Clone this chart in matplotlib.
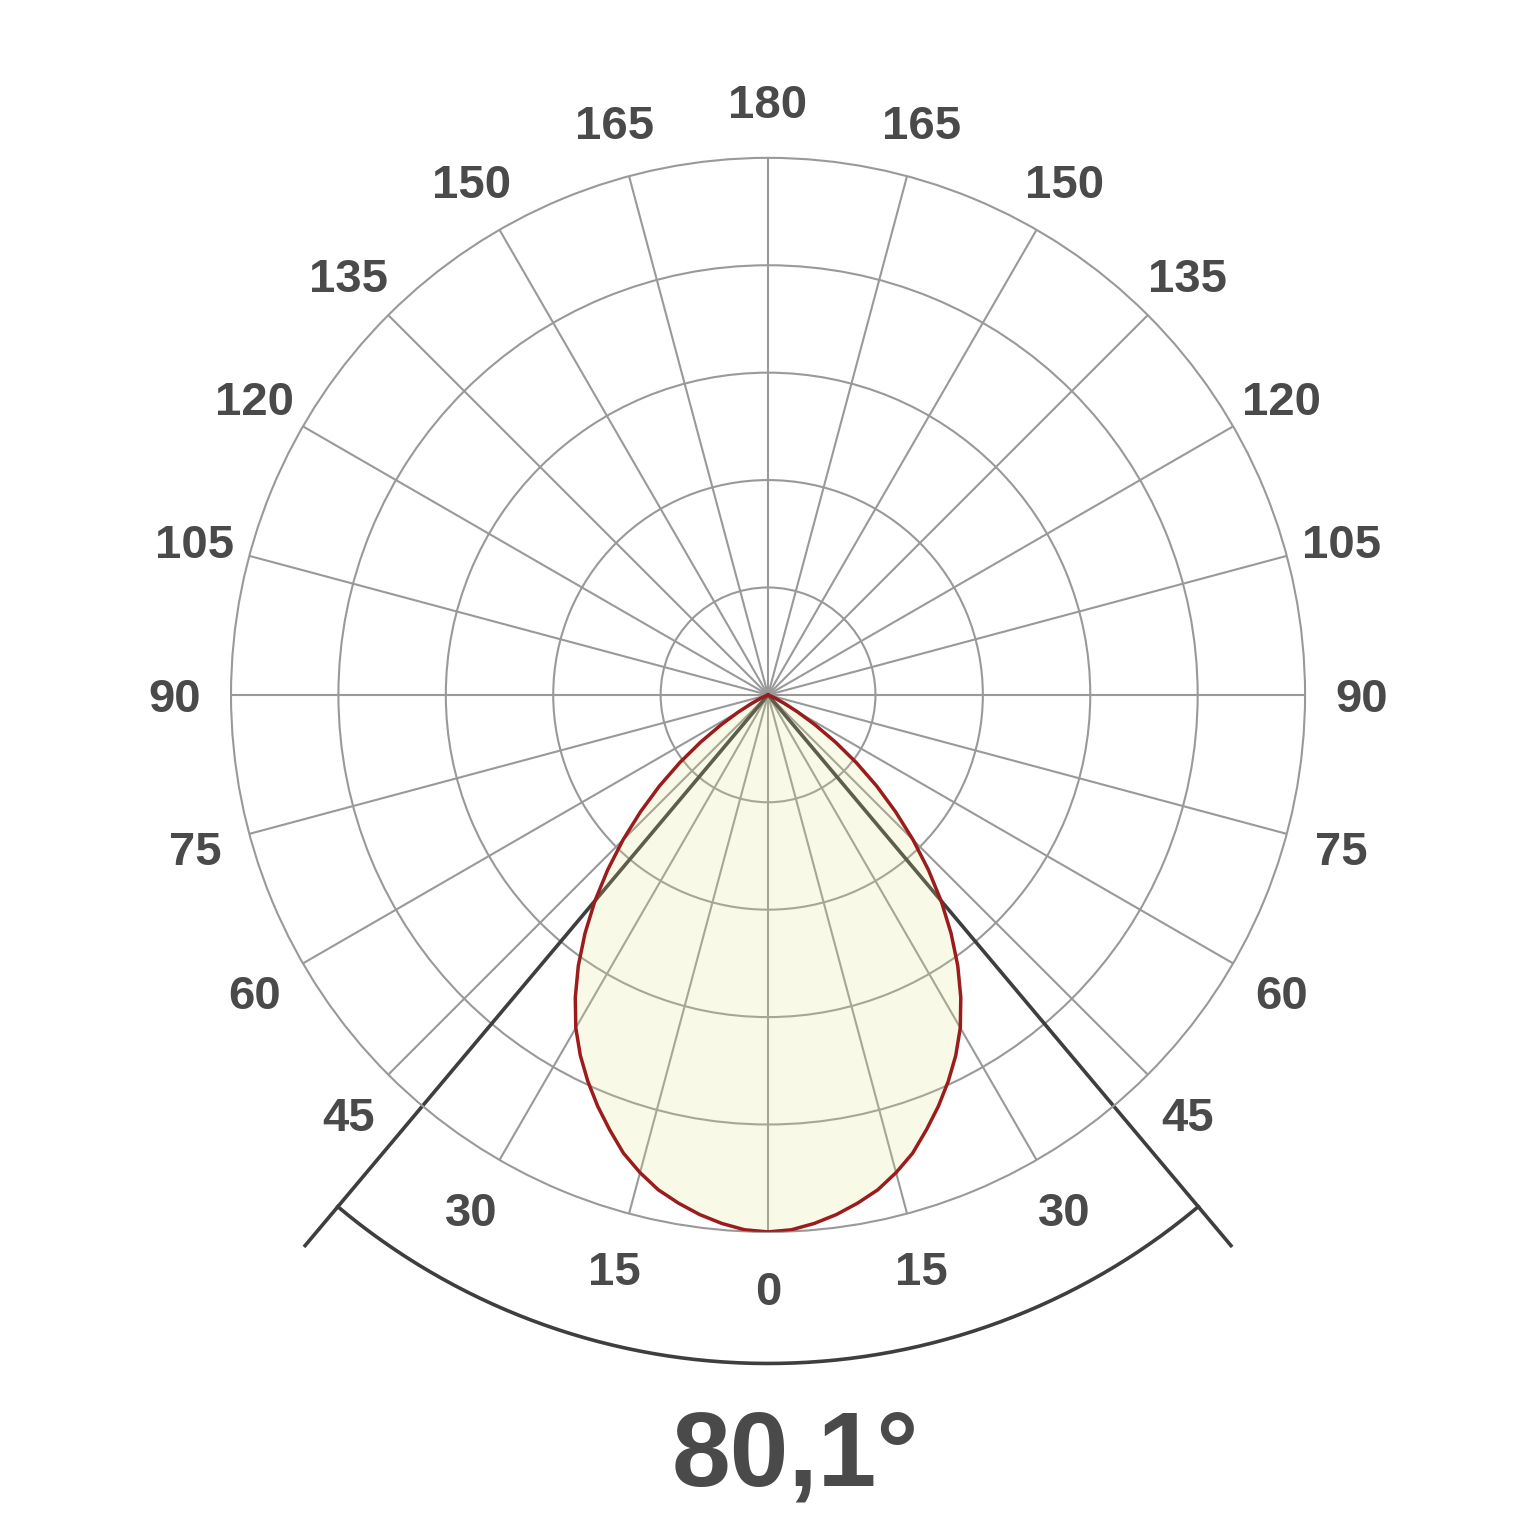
import numpy as np
import matplotlib
matplotlib.use('Agg')
import matplotlib.pyplot as plt

plt.rcParams['font.family'] = ['Liberation Sans', 'DejaVu Sans']

angulos = [0, 2.5, 5, 7.5, 10, 12.5, 15, 17.5, 20, 22.5, 25, 27.5, 30, 32.5, 35,
           37.5, 40, 42.5, 45, 47.5, 50, 52.5, 55, 57.5, 60, 62.5, 65, 67.5, 70,
           72.5, 90]
intensidade = [1.000, 0.997, 0.988, 0.976, 0.961, 0.944, 0.921, 0.895, 0.862,
               0.829, 0.794, 0.757, 0.716, 0.668, 0.616, 0.560, 0.502, 0.442,
               0.382, 0.322, 0.264, 0.207, 0.153, 0.104, 0.064, 0.035, 0.016,
               0.006, 0.002, 0.0, 0.0]
angulo_feixe = 80.1
rotulos_grade = [0, 15, 30, 45, 60, 75, 90, 105, 120, 135, 150, 165, 180]
aneis = [0.2, 0.4, 0.6, 0.8, 1.0]

cinza = '#999999'
texto = '#4a4a4a'

fig = plt.figure(figsize=(15.37, 15.37), dpi=100)
ax = fig.add_axes([0.1503, 0.1985, 0.6988, 0.6988], projection='polar')
ax.set_theta_zero_location('S')
ax.set_ylim(0, 1)

ax.set_thetagrids(np.arange(0, 360, 15), labels=[''] * 24)
ax.set_rgrids(aneis[:-1], labels=[''] * 4)
ax.grid(True, color=cinza, linewidth=1.5)
ax.spines['polar'].set_color(cinza)
ax.spines['polar'].set_linewidth(1.5)
ax.tick_params(length=0)

# rotulos dos angulos
for a in rotulos_grade:
    for s in ([1] if a in (0, 180) else [1, -1]):
        ax.text(np.deg2rad(s * a), 1.105, str(a), ha='center',
                va='center_baseline', fontsize=34, fontweight='bold',
                color=texto, clip_on=False)

# curva (espelhada dos dois lados)
ang = np.array(angulos, dtype=float)
val = np.array(intensidade)
theta = np.deg2rad(np.concatenate([-ang[::-1], ang[1:]]))
r = np.concatenate([val[::-1], val[1:]])

# linhas do angulo de feixe
meio = np.deg2rad(angulo_feixe / 2)
for s in (1, -1):
    ax.plot([0, s * meio], [0, 1.343], color='#3e3e3e', linewidth=2.6,
            zorder=1.8, clip_on=False, solid_capstyle='butt')
arco = np.linspace(-meio, meio, 200)
ax.plot(arco, np.full_like(arco, 1.245), color='#3e3e3e', linewidth=2.6,
        zorder=1.8, clip_on=False)

ax.fill(theta, r, color='#dce182', alpha=0.2, zorder=2)
ax.plot(theta, r, color='#9b1c1c', linewidth=2.5, zorder=3,
        solid_joinstyle='round')

fig.text(795 / 1537, 1 - 1486 / 1537, '80,1°', ha='center', va='baseline',
         fontsize=76, fontweight='bold', color=texto)

fig.savefig('out.png', dpi=100, facecolor='white')
